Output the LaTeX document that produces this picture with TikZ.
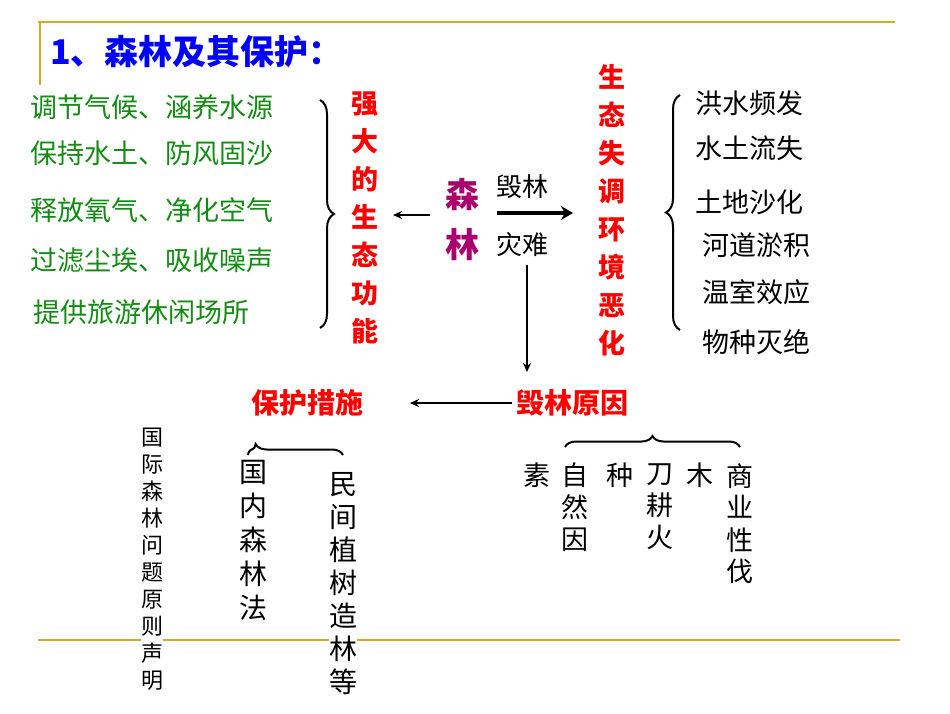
\documentclass[tikz,border=0pt]{standalone}
\usepackage{fontspec}
\setmainfont{Noto Sans CJK SC}
\usetikzlibrary{decorations.pathreplacing,arrows.meta}
\definecolor{gold}{RGB}{214,170,40}
\definecolor{grn}{RGB}{20,140,20}
\definecolor{purp}{RGB}{170,0,110}
\tikzset{
  gtxt/.style={text=grn,font=\fontsize{27}{30}\selectfont,anchor=west,inner sep=0},
  btxt/.style={text=black,font=\fontsize{27}{30}\selectfont,anchor=west,inner sep=0},
  redv/.style={text=red,font=\bfseries\fontsize{27}{38}\selectfont,align=center,anchor=north,inner sep=0},
  blkv/.style={text=black,font=\fontsize{27}{32}\selectfont,align=center,anchor=north,inner sep=0},
  brc/.style={decorate,line width=2pt},
  arr/.style={-{Stealth[length=9pt,width=8pt]},line width=1.6pt}
}
\begin{document}
\begin{tikzpicture}[x=1pt,y=-1pt]
\useasboundingbox (0,0) rectangle (950,713);
\fill[white] (0,0) rectangle (950,713);
\draw[gold,line width=2pt] (38,22) -- (895,22);
\draw[gold,line width=1.5pt] (40,22) -- (40,85);
\draw[gold,line width=2pt] (38,640) -- (900,640);
\node[text=blue,font=\bfseries\fontsize{34}{36}\selectfont,anchor=west,inner sep=0] (title) at (50,52) {1、森林及其保护：};
% left list
\node[gtxt] (g1) at (30,107) {调节气候、涵养水源};
\node[gtxt] (g2) at (30,153) {保持水土、防风固沙};
\node[gtxt] (g3) at (30,210) {释放氧气、净化空气};
\node[gtxt] (g4) at (30,260) {过滤尘埃、吸收噪声};
\node[gtxt] (g5) at (33,312) {提供旅游休闲场所};
\draw[brc,decoration={brace,amplitude=14pt}] (320,100) -- (320,328);
\node[redv] (qd) at (365,92) {强\\大\\的\\生\\态\\功\\能};
% center
\node[text=purp,font=\bfseries\fontsize{34}{50}\selectfont,align=center,inner sep=0] (sl) at (462,220) {森\\林};
\coordinate (la1) at (430,215); \coordinate (la2) at (393,215);
\draw[arr] (la1) -- (la2);
\node[font=\fontsize{26}{28}\selectfont,inner sep=0] (hl) at (522,187) {毁林};
\node[font=\fontsize{26}{28}\selectfont,inner sep=0] (zn) at (522,245) {灾难};
\coordinate (ta1) at (497,213); \coordinate (ta2) at (573,213);
\draw[-{Stealth[length=12pt,width=14pt]},line width=4pt] (ta1) -- (ta2);
\coordinate (da1) at (527,265); \coordinate (da2) at (527,372);
\draw[arr] (da1) -- (da2);
\node[redv] (st) at (612,64) {生\\态\\失\\调\\环\\境\\恶\\化};
\draw[brc,decoration={brace,amplitude=14pt}] (680,330) -- (680,95);
\node[btxt] (r1) at (695,103) {洪水频发};
\node[btxt] (r2) at (695,148) {水土流失};
\node[btxt] (r3) at (695,202) {土地沙化};
\node[btxt] (r4) at (702,245) {河道淤积};
\node[btxt] (r5) at (702,292) {温室效应};
\node[btxt] (r6) at (702,342) {物种灭绝};
% bottom
\node[text=red,font=\bfseries\fontsize{28}{30}\selectfont,inner sep=0] (yy) at (572,403) {毁林原因};
\node[text=red,font=\bfseries\fontsize{28}{30}\selectfont,inner sep=0] (bh) at (307,403) {保护措施};
\draw[arr] (yy.west) ++(-4,0) coordinate (ba1) -- (410,403) coordinate (ba2);
\draw[brc,decoration={brace,amplitude=11pt,aspect=0.08}] (248,455) -- (343,455);
\draw[brc,decoration={brace,amplitude=11pt}] (565,447) -- (740,447);
\node[blkv,fill=white,font=\fontsize{22}{27}\selectfont] (v1) at (152,428) {国\\际\\森\\林\\问\\题\\原\\则\\声\\明};
\node[blkv,fill=white,font=\fontsize{28}{34}\selectfont] (v2) at (253,460) {国\\内\\森\\林\\法};
\node[blkv,fill=white,font=\fontsize{28}{33}\selectfont] (v3) at (343,472) {民\\间\\植\\树\\造\\林\\等};
\node[blkv] (w1) at (537,463) {素};
\node[blkv] (w2) at (575,463) {自\\然\\因};
\node[blkv] (w3) at (620,463) {种};
\node[blkv] (w4) at (660,463) {刀\\耕\\火};
\node[blkv] (w5) at (700,463) {木};
\node[blkv] (w6) at (740,463) {商\\业\\性\\伐};
\end{tikzpicture}
\end{document}
